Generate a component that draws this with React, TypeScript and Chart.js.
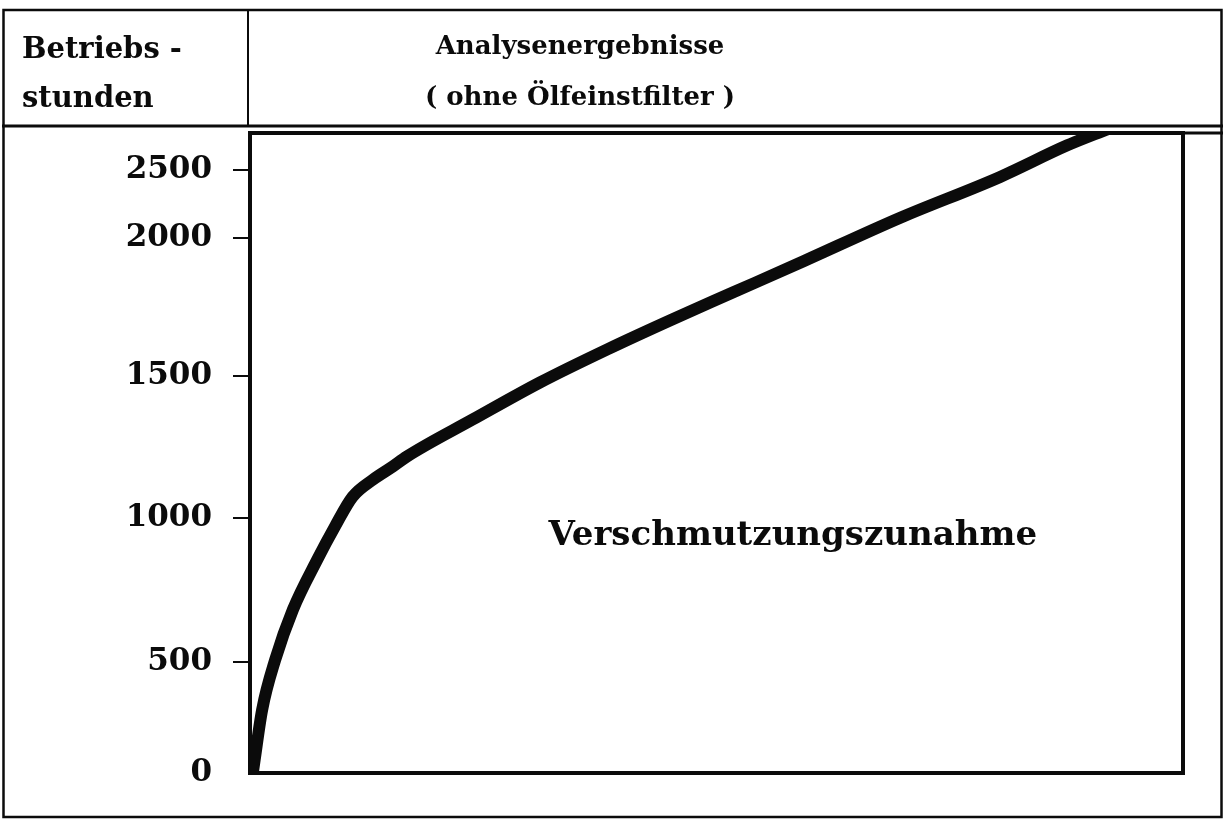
import React, { useEffect, useRef } from "react";
import { Chart, registerables, LinearScale } from "chart.js";

// ---- data ----
const contaminationX = [0.3, 0.5, 1.3, 2.7, 4.6, 7.2, 9.1, 11.0, 13.2, 15.3, 16.8, 23.9, 31.1, 38.3, 45.3, 51.8, 58.9, 69.7, 80.4, 87.6, 92.0];
const operatingHours = [0, 60, 284, 507, 681, 854, 969, 1074, 1135, 1181, 1216, 1348, 1479, 1598, 1707, 1804, 1910, 2150, 2450, 2680, 2800];
const yTickValues = [0, 500, 1000, 1500, 2000, 2500];
const yTickLabels = ["0", "500", "1000", "1500", "2000", "2500"];
const headerLeft = ["Betriebs -", "stunden"];
const headerRight = ["Analysenergebnisse", "( ohne Ölfeinstfilter )"];
const annotationLabel = "Verschmutzungszunahme";
const annotationX = 32;
const annotationY = 935;

// Piecewise-linear value axis (the original axis is not evenly spaced)
class PiecewiseScale extends LinearScale {
  static id = "piecewise";
  static defaults = { ...(LinearScale as any).defaults };
  _brk(): number[][] {
    const b = (this as any).options.breaks;
    if (b && b.length > 1) return b;
    return [[(this as any).min, 0], [(this as any).max, 1]];
  }
  _toDec(v: number): number {
    const b = this._brk();
    let i = 1;
    while (i < b.length - 1 && v > b[i][0]) i++;
    const [v0, f0] = b[i - 1];
    const [v1, f1] = b[i];
    return f0 + ((v - v0) * (f1 - f0)) / (v1 - v0);
  }
  _fromDec(f: number): number {
    const b = this._brk();
    let i = 1;
    while (i < b.length - 1 && f > b[i][1]) i++;
    const [v0, f0] = b[i - 1];
    const [v1, f1] = b[i];
    return v0 + ((f - f0) * (v1 - v0)) / (f1 - f0);
  }
  getPixelForValue(value: any) {
    if (value === null || value === undefined || isNaN(value)) return NaN;
    return (this as any).getPixelForDecimal(this._toDec(+value));
  }
  getValueForPixel(pixel: number) {
    return this._fromDec((this as any).getDecimalForPixel(pixel));
  }
}

Chart.register(...registerables, PiecewiseScale as any);

const INK = "#0b0b0b";
const FONT = "'DejaVu Serif', serif";

const framePlugin = {
  id: "frame",
  afterDraw(chart: any) {
    const { ctx, chartArea } = chart;
    ctx.save();
    ctx.strokeStyle = INK;
    ctx.lineCap = "square";
    // outer frame
    ctx.lineWidth = 2.5;
    ctx.strokeRect(3.5, 10, 1218, 807);
    // header bottom line
    ctx.lineWidth = 3;
    ctx.beginPath();
    ctx.moveTo(3.5, 126);
    ctx.lineTo(1221.5, 126);
    ctx.stroke();
    // second header line (continues plot top to the right frame)
    ctx.beginPath();
    ctx.moveTo(chartArea.left, chartArea.top);
    ctx.lineTo(1221.5, chartArea.top);
    ctx.stroke();
    // header divider
    ctx.lineWidth = 2;
    ctx.beginPath();
    ctx.moveTo(chartArea.left - 2, 10);
    ctx.lineTo(chartArea.left - 2, 126);
    ctx.stroke();
    // plot box
    ctx.lineWidth = 4;
    ctx.strokeRect(chartArea.left, chartArea.top, chartArea.right - chartArea.left, chartArea.bottom - chartArea.top);
    ctx.restore();
  },
};

const annotationPlugin = {
  id: "annotationText",
  afterDatasetsDraw(chart: any) {
    const { ctx, scales } = chart;
    ctx.save();
    ctx.fillStyle = INK;
    ctx.font = `bold 34px ${FONT}`;
    ctx.textAlign = "left";
    ctx.textBaseline = "middle";
    ctx.fillText(annotationLabel, scales.x.getPixelForValue(annotationX), scales.y.getPixelForValue(annotationY));
    ctx.restore();
  },
};

export default function App() {
  const ref = useRef<HTMLCanvasElement>(null);

  useEffect(() => {
    if (!ref.current) return;
    const chart = new Chart(ref.current, {
      type: "line",
      data: {
        datasets: [
          {
            data: contaminationX.map((x, i) => ({ x, y: operatingHours[i] })),
            borderColor: INK,
            borderWidth: 12,
            pointRadius: 0,
            cubicInterpolationMode: "monotone",
            fill: false,
          },
        ],
      },
      options: {
        animation: false,
        responsive: true,
        maintainAspectRatio: false,
        layout: { padding: { left: 0, top: 133, right: 46, bottom: 50 } },
        plugins: { legend: { display: false }, tooltip: { enabled: false } },
        scales: {
          x: { type: "linear", min: 0, max: 100, display: false },
          y: {
            type: "piecewise" as any,
            min: 0,
            max: 2770,
            breaks: [
              [0, 0],
              [500, 0.1737],
              [1000, 0.399],
              [1500, 0.6197],
              [2000, 0.8357],
              [2500, 0.942],
              [2770, 1],
            ],
            afterBuildTicks: (scale: any) => {
              scale.ticks = yTickValues.map((v) => ({ value: v }));
            },
            afterFit: (scale: any) => {
              scale.width = 250;
            },
            border: { display: false },
            grid: {
              display: true,
              drawOnChartArea: false,
              drawTicks: true,
              tickLength: 17,
              color: INK,
              tickColor: (c: any) => (c.tick && c.tick.value === 0 ? "rgba(0,0,0,0)" : INK),
              lineWidth: 2,
            },
            ticks: {
              padding: 21,
              color: INK,
              font: { family: FONT, size: 31, weight: "bold" },
              callback: (value: any) => {
                const i = yTickValues.indexOf(Number(value));
                return i >= 0 ? yTickLabels[i] : "";
              },
            },
          } as any,
        },
      },
      plugins: [framePlugin, annotationPlugin],
    } as any);
    return () => chart.destroy();
  }, []);

  const textStyle: React.CSSProperties = {
    position: "absolute",
    fontFamily: FONT,
    fontWeight: "bold",
    color: INK,
    whiteSpace: "nowrap",
    height: 40,
    lineHeight: "40px",
  };

  return (
    <div style={{ position: "absolute", left: 0, top: 0, width: 1229, height: 823, background: "#fff", overflow: "hidden" }}>
      <canvas ref={ref} />
      <div style={{ ...textStyle, left: 22, top: 28, fontSize: 29 }}>{headerLeft[0]}</div>
      <div style={{ ...textStyle, left: 22, top: 77, fontSize: 29 }}>{headerLeft[1]}</div>
      <div style={{ ...textStyle, left: 380, width: 400, textAlign: "center", top: 25, fontSize: 26 }}>{headerRight[0]}</div>
      <div style={{ ...textStyle, left: 380, width: 400, textAlign: "center", top: 76, fontSize: 26 }}>{headerRight[1]}</div>
    </div>
  );
}
